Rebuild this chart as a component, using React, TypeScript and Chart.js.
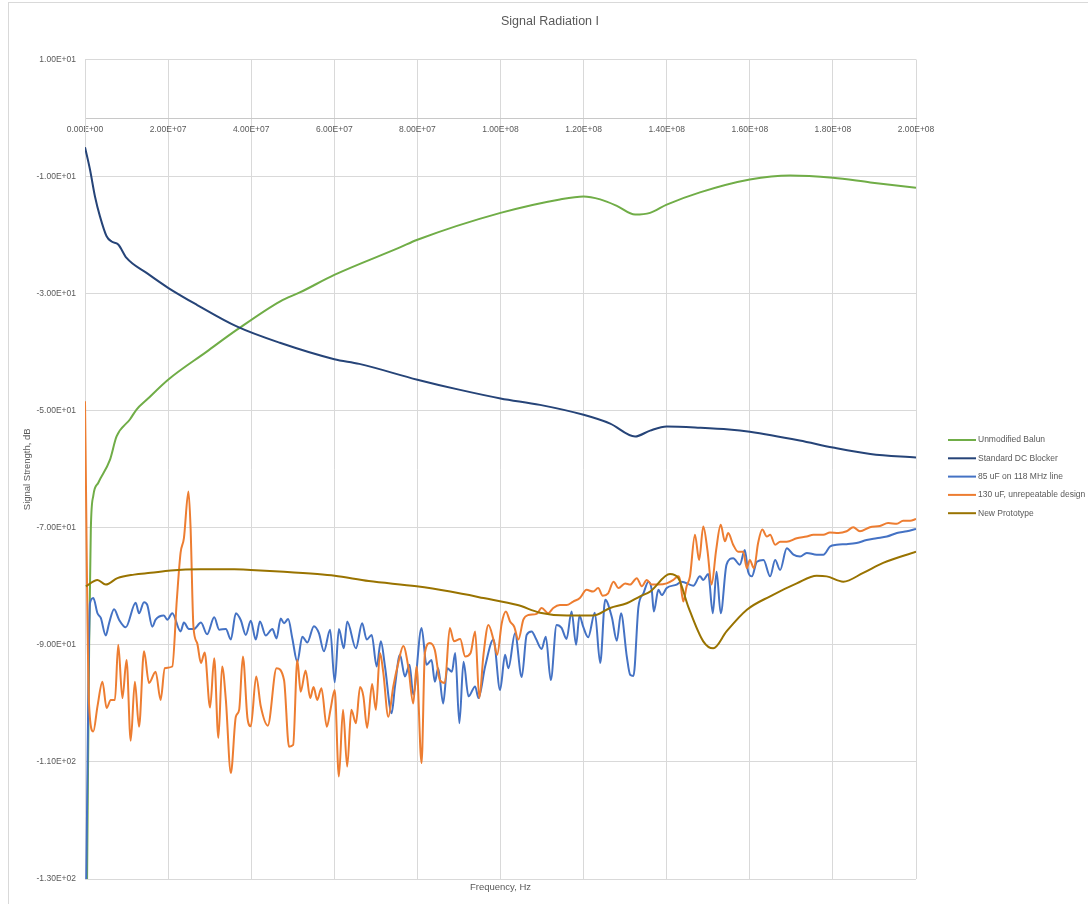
import React, { useEffect, useRef } from 'react';
import { Chart, registerables } from 'chart.js';

Chart.register(...registerables);

const FONT = "'Liberation Sans', Arial, sans-serif";

// ---- data (frequency in MHz, level in dB) ----
const balunFreq = [0.5, 1.0, 1.4, 2.0, 3.2, 6.0, 7.6, 10.8, 12.4, 14.9, 20.0, 29.3, 36.5, 47.0, 51.7, 60.0, 75.8, 80.0, 100.0, 114.3, 120.0, 124.0, 128.0, 132.4, 136.0, 140.0, 148.0, 160.0, 169.7, 180.0, 189.0, 200.0];
const balunDb = [-130, -90, -70.3, -64.5, -62.3, -58.4, -54.4, -51.5, -49.8, -48.1, -44.7, -39.9, -36.2, -31.3, -29.8, -26.8, -22.1, -20.8, -16.2, -13.9, -13.4, -13.9, -15.0, -16.5, -16.2, -14.8, -12.7, -10.5, -9.8, -10.2, -11.0, -11.9];

const dcFreq = [0, 1.2, 2.4, 3.6, 5.2, 6.4, 8.0, 10.0, 14.9, 20.0, 26.9, 36.5, 46.9, 60.0, 66.0, 80.0, 90.0, 100.0, 109.5, 120.0, 126.4, 132.4, 136.0, 140.0, 148.0, 155.0, 160.0, 172.0, 180.0, 189.0, 200.0];
const dcDb = [-5.0, -8.8, -13.4, -16.8, -20.2, -21.1, -21.6, -23.9, -26.5, -29.0, -31.9, -35.6, -38.4, -41.2, -42.0, -44.7, -46.4, -47.9, -49.0, -50.7, -52.2, -54.4, -53.4, -52.7, -52.9, -53.2, -53.6, -55.1, -56.3, -57.4, -58.0];

const uf85Freq = [0.3, 1.2, 2.0, 3.0, 3.8, 5.0, 5.8, 7.0, 8.2, 9.8, 12.2, 13.0, 14.2, 15.0, 16.2, 17.0, 19.0, 19.8, 21.0, 23.0, 23.8, 25.0, 26.2, 27.9, 29.4, 31.1, 32.3, 33.9, 35.1, 36.3, 37.5, 38.7, 39.9, 41.1, 42.1, 43.5, 45.1, 46.1, 47.1, 47.9, 48.9, 49.9, 51.1, 52.3, 53.5, 55.1, 56.3, 57.5, 59.0, 60.1, 61.1, 62.3, 63.1, 65.2, 66.7, 67.8, 69.0, 70.2, 71.2, 72.2, 73.8, 74.6, 75.8, 77.0, 78.1, 79.0, 81.0, 82.2, 83.4, 84.2, 85.0, 86.2, 87.2, 88.3, 89.1, 90.1, 91.1, 92.3, 93.9, 94.7, 96.3, 98.3, 99.9, 101.1, 101.9, 103.5, 105.1, 106.3, 107.5, 108.5, 109.9, 110.9, 112.1, 113.5, 114.7, 115.9, 117.1, 118.2, 119.0, 119.9, 121.1, 122.7, 124.0, 125.2, 126.8, 128.0, 129.0, 130.4, 131.2, 132.0, 133.2, 134.4, 135.6, 136.4, 136.9, 138.0, 138.8, 140.0, 142.4, 143.6, 146.4, 148.0, 148.8, 150.0, 151.1, 152.0, 153.0, 154.4, 156.0, 157.6, 158.8, 159.6, 160.5, 161.7, 163.3, 164.9, 166.1, 167.3, 168.9, 170.5, 172.1, 173.7, 176.1, 177.7, 179.3, 180.9, 183.3, 185.7, 188.1, 190.5, 193.0, 195.4, 197.8, 200.0];
const uf85Db = [-130, -82.9, -82.0, -84.6, -85.4, -88.4, -86.3, -83.9, -85.7, -87.0, -82.8, -84.6, -82.7, -83.2, -86.9, -85.7, -85.0, -85.7, -84.6, -87.7, -86.2, -87.3, -87.3, -86.2, -88.2, -85.3, -87.4, -87.3, -89.1, -84.6, -85.8, -88.3, -85.9, -89.1, -86.0, -88.4, -87.3, -88.9, -85.5, -86.3, -85.6, -88.9, -92.9, -88.6, -89.6, -86.8, -88.0, -91.1, -87.4, -96.4, -87.3, -90.6, -86.0, -90.6, -86.3, -89.1, -88.3, -93.7, -89.4, -93.7, -101.7, -97.1, -91.7, -95.4, -93.4, -98.5, -87.1, -93.4, -92.6, -96.3, -94.0, -100.0, -94.0, -94.6, -91.4, -103.4, -92.9, -98.8, -97.1, -99.1, -93.7, -89.1, -97.7, -91.7, -94.0, -88.0, -95.5, -88.3, -87.7, -88.9, -90.7, -88.6, -96.0, -86.6, -87.1, -89.0, -84.3, -90.0, -85.0, -86.9, -88.7, -84.5, -93.1, -82.3, -85.3, -89.3, -84.6, -92.0, -95.1, -95.3, -83.5, -81.2, -79.2, -80.6, -84.3, -80.6, -81.5, -80.3, -79.7, -79.2, -79.9, -78.3, -78.9, -77.9, -84.6, -77.5, -84.6, -76.3, -75.2, -76.3, -73.8, -77.5, -78.3, -75.8, -75.5, -78.3, -75.5, -77.2, -73.5, -74.6, -74.9, -74.3, -74.6, -74.6, -73.2, -72.9, -72.8, -72.6, -72.1, -71.8, -71.5, -70.9, -70.6, -70.2];

const uf130Freq = [0, 0.96, 2.0, 3.0, 4.2, 5.2, 6.2, 7.2, 8.0, 9.0, 10.0, 11.0, 12.0, 13.0, 14.2, 15.4, 17.0, 18.2, 19.2, 21.0, 22.1, 23.0, 23.8, 24.9, 25.4, 26.1, 27.0, 27.9, 28.8, 30.1, 31.1, 32.1, 33.0, 33.9, 35.1, 36.3, 37.1, 38.0, 39.1, 39.9, 41.2, 42.3, 44.0, 46.1, 47.9, 49.1, 50.1, 51.1, 51.9, 53.1, 54.2, 55.0, 55.9, 56.9, 58.2, 59.1, 60.1, 61.1, 62.1, 63.1, 64.1, 65.2, 66.2, 67.0, 67.9, 69.1, 70.0, 71.0, 71.8, 73.0, 74.2, 75.4, 76.6, 77.8, 79.0, 79.8, 81.0, 81.8, 83.0, 84.2, 85.4, 86.6, 87.8, 88.8, 90.3, 91.5, 92.8, 93.9, 94.9, 95.9, 97.1, 98.3, 99.2, 100.3, 101.3, 102.3, 103.3, 104.3, 105.5, 106.7, 108.7, 109.9, 111.5, 112.7, 114.3, 115.9, 117.5, 119.1, 120.7, 122.3, 123.5, 124.6, 125.9, 127.2, 128.4, 130.0, 131.2, 132.8, 134.0, 135.2, 136.4, 138.0, 140.0, 141.6, 142.8, 143.2, 144.0, 144.8, 145.6, 146.8, 147.8, 148.8, 149.8, 150.8, 151.9, 153.0, 154.0, 154.8, 156.0, 157.2, 158.4, 159.3, 160.0, 161.0, 162.0, 163.0, 164.1, 164.9, 166.1, 167.3, 168.9, 171.3, 173.7, 175.3, 177.7, 179.3, 181.3, 183.3, 184.9, 186.5, 188.9, 191.3, 193.3, 195.4, 196.9, 198.6, 200.0];
const uf130Db = [-48.4, -100.0, -104.8, -100.5, -96.3, -100.8, -99.4, -99.4, -90.0, -99.1, -92.6, -106.4, -96.3, -104.0, -91.1, -96.5, -94.6, -99.4, -94.0, -93.7, -82.3, -74.3, -71.8, -63.8, -69.8, -86.9, -89.7, -93.1, -91.3, -100.7, -92.3, -105.9, -93.7, -99.4, -111.9, -102.3, -101.1, -92.0, -102.5, -103.9, -95.4, -100.5, -103.8, -94.0, -96.0, -107.4, -107.1, -92.6, -98.0, -94.4, -99.1, -97.2, -99.4, -97.4, -104.0, -101.0, -97.7, -112.5, -101.1, -110.8, -101.1, -103.4, -97.2, -98.8, -104.2, -96.7, -101.1, -91.4, -94.8, -102.3, -97.1, -93.1, -90.2, -93.7, -100.0, -93.7, -110.2, -91.4, -89.7, -90.9, -96.0, -96.5, -87.1, -89.4, -89.0, -92.0, -91.4, -87.7, -99.1, -91.7, -86.6, -89.1, -91.7, -86.3, -84.3, -86.0, -86.9, -89.1, -85.7, -84.9, -84.7, -83.7, -84.6, -83.7, -83.2, -83.2, -82.6, -82.0, -80.6, -80.9, -80.3, -81.6, -81.2, -79.2, -80.3, -79.5, -79.7, -78.6, -80.0, -78.9, -79.7, -79.7, -79.5, -78.9, -78.3, -78.9, -82.6, -80.0, -78.3, -71.2, -75.5, -69.8, -73.8, -79.7, -73.8, -69.5, -72.3, -70.9, -72.9, -74.1, -74.1, -76.9, -75.5, -76.9, -72.6, -70.3, -71.5, -71.2, -72.9, -72.4, -72.4, -71.8, -71.5, -71.2, -71.2, -70.8, -70.9, -70.6, -69.9, -70.6, -69.9, -69.7, -69.2, -69.3, -68.8, -68.8, -68.5];

const protoFreq = [0.2, 3.0, 5.0, 7.8, 11.8, 15.8, 20.6, 27.8, 35.9, 39.9, 47.9, 55.9, 60.1, 68.3, 79.8, 87.9, 95.9, 104.1, 109.5, 116.0, 122.3, 126.4, 130.4, 133.6, 136.0, 140.8, 142.8, 145.2, 148.8, 151.2, 154.4, 159.3, 164.9, 171.3, 176.1, 178.5, 182.5, 187.3, 192.1, 200.0];
const protoDb = [-80.0, -78.9, -79.7, -78.6, -78.0, -77.7, -77.3, -77.1, -77.1, -77.2, -77.5, -77.9, -78.2, -79.1, -80.0, -80.9, -82.0, -83.2, -84.5, -85.0, -85.0, -83.7, -82.9, -81.7, -80.9, -77.9, -78.6, -83.5, -89.4, -90.6, -87.7, -84.0, -81.7, -79.5, -78.2, -78.3, -79.2, -77.7, -76.0, -74.1];

const seriesNames = ['Unmodified Balun', 'Standard DC Blocker', '85 uF on 118 MHz line', '130 uF, unrepeatable design', 'New Prototype'];
const seriesColors = ['#70AD47', '#264478', '#4472C4', '#ED7D31', '#997300'];
const seriesFreqs = [balunFreq, dcFreq, uf85Freq, uf130Freq, protoFreq];
const seriesValues = [balunDb, dcDb, uf85Db, uf130Db, protoDb];

const xTicksMin = 0;
const xTicksMax = 2e8;
const xStep = 2e7;
const yMin = -130;
const yMax = 10;
const yStep = 20;

function sci(v: number): string {
  const s = Number(v).toExponential(2);
  const [m, e] = s.split('e');
  const sign = e[0] === '-' ? '-' : '+';
  const digits = e.replace(/^[+-]/, '').padStart(2, '0');
  return `${m}E${sign}${digits}`;
}

const frame = {
  id: 'frame',
  beforeDraw(chart: any) {
    const ctx = chart.ctx;
    ctx.save();
    ctx.fillStyle = '#ffffff';
    ctx.fillRect(0, 0, chart.width, chart.height);
    ctx.strokeStyle = '#d9d9d9';
    ctx.lineWidth = 1;
    ctx.strokeRect(8.5, 2.5, 1200, 1200);
    ctx.restore();
  },
};

const sideLegend = {
  id: 'sideLegend',
  afterDraw(chart: any) {
    const ctx = chart.ctx;
    const area = chart.chartArea;
    const x0 = area.right + 32;
    const y0 = 440;
    ctx.save();
    ctx.font = `8.5px ${FONT}`;
    ctx.textBaseline = 'middle';
    ctx.textAlign = 'left';
    chart.data.datasets.forEach((ds: any, i: number) => {
      const y = y0 + i * 18.3;
      ctx.strokeStyle = ds.borderColor;
      ctx.lineWidth = 2;
      ctx.beginPath();
      ctx.moveTo(x0, y);
      ctx.lineTo(x0 + 28, y);
      ctx.stroke();
      ctx.fillStyle = '#595959';
      ctx.fillText(ds.label, x0 + 30, y);
    });
    ctx.restore();
  },
};

export default function App() {
  const ref = useRef<HTMLCanvasElement | null>(null);

  useEffect(() => {
    if (!ref.current) return;
    const datasets = seriesNames.map((name, i) => ({
      label: name,
      data: seriesFreqs[i].map((f, j) => ({ x: f * 1e6, y: seriesValues[i][j] })),
      borderColor: seriesColors[i],
      backgroundColor: seriesColors[i],
      borderWidth: 2,
      pointRadius: 0,
      pointHoverRadius: 0,
      cubicInterpolationMode: 'monotone' as const,
      fill: false,
      order: seriesNames.length - i,
    }));

    const chart = new Chart(ref.current, {
      type: 'line',
      data: { datasets },
      plugins: [frame, sideLegend],
      options: {
        responsive: false,
        animation: false,
        events: [],
        layout: { padding: { left: 12, right: 0, top: 0, bottom: 0 } },
        font: { family: FONT },
        plugins: {
          legend: { display: false },
          tooltip: { enabled: false },
          title: {
            display: true,
            text: 'Signal Radiation I',
            color: '#595959',
            font: { family: FONT, size: 12.5, weight: 'normal' },
            padding: { top: 14, bottom: 30.5 },
          },
          subtitle: {
            display: true,
            position: 'bottom',
            fullSize: false,
            text: 'Frequency, Hz',
            color: '#595959',
            font: { family: FONT, size: 9.5, weight: 'normal' },
            padding: { top: 3, bottom: 10.6 },
          },
        },
        scales: {
          x: {
            type: 'linear',
            position: { y: 0 } as any,
            min: xTicksMin,
            max: xTicksMax,
            ticks: {
              stepSize: xStep,
              color: '#595959',
              font: { family: FONT, size: 8.5 },
              padding: 7,
              maxRotation: 0,
              autoSkip: false,
              callback: (v: any) => sci(Number(v)),
            },
            grid: { color: '#d9d9d9', drawTicks: false },
            border: { color: '#c8c8c8' },
          },
          y: {
            type: 'linear',
            min: yMin,
            max: yMax,
            ticks: {
              stepSize: yStep,
              color: '#595959',
              font: { family: FONT, size: 8.5 },
              padding: 9,
              callback: (v: any) => sci(Number(v)),
            },
            grid: { color: '#d9d9d9', drawTicks: false },
            border: { color: '#d9d9d9' },
            title: {
              display: true,
              text: 'Signal Strength, dB',
              color: '#595959',
              font: { family: FONT, size: 9.5 },
              padding: { top: 10, bottom: 0 },
            },
            afterFit: (scale: any) => {
              scale.width = 73;
            },
          },
          yRightSpace: {
            type: 'linear',
            position: 'right',
            display: true,
            min: yMin,
            max: yMax,
            grid: { display: false, drawTicks: false },
            border: { display: false },
            ticks: { display: false },
            afterFit: (scale: any) => {
              scale.width = 172;
            },
          },
        },
      },
    });
    return () => chart.destroy();
  }, []);

  return (
    <div style={{ position: 'fixed', left: 0, top: 0, width: 1088, height: 904, background: '#fff' }}>
      <canvas ref={ref} width={1088} height={904} style={{ display: 'block' }} />
    </div>
  );
}
